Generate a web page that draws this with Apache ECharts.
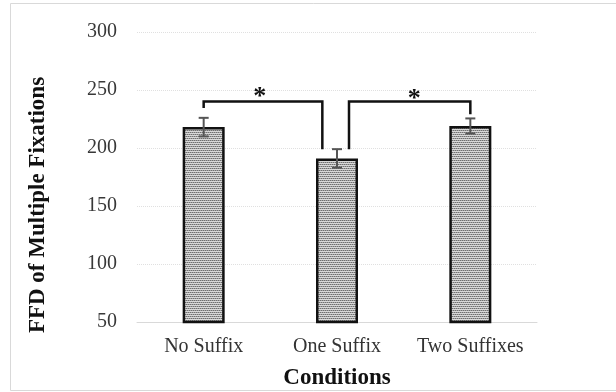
<!DOCTYPE html>
<html><head><meta charset="utf-8">
<script src="https://cdn.jsdelivr.net/npm/echarts@6/dist/echarts.min.js"></script>
<style>html,body{margin:0;padding:0;background:#fff}#c{width:616px;height:392px}</style>
</head><body><div id="c"></div>
<script>
const categories = ['No Suffix', 'One Suffix', 'Two Suffixes'];
const means = [218, 191, 219];
const errors = [8, 8, 6.5];
const yTicks = [50, 100, 150, 200, 250, 300];
// brackets: [xStart, xEnd, yStartEnd, yEndEnd, yTop]
const bracketX0 = [0, 1.09];
const bracketX1 = [0.89, 2];
const bracketLeftEnd = [234.5, 199];
const bracketRightEnd = [199, 229];
const bracketTop = [240, 240];
const starX = [0.42, 1.58];
const starY = [244, 242];
const yAxisTitle = 'FFD of Multiple Fixations';
const xAxisTitle = 'Conditions';

function makePattern() {
  const c = document.createElement('canvas');
  c.width = 4; c.height = 4;
  const g = c.getContext('2d');
  g.fillStyle = '#d8d8d8'; g.fillRect(0, 0, 4, 4);
  g.fillStyle = '#6e6e6e';
  g.fillRect(0, 0, 1, 1); g.fillRect(2, 0, 1, 1); g.fillRect(1, 2, 1, 1); g.fillRect(3, 2, 1, 1);
  g.fillStyle = '#a4a4a4';
  g.fillRect(1, 0, 1, 1); g.fillRect(3, 0, 1, 1); g.fillRect(0, 2, 1, 1); g.fillRect(2, 2, 1, 1);
  return c;
}

const chart = echarts.init(document.getElementById('c'));
const serif = '"Liberation Serif", "Times New Roman", serif';

const errData = categories.map((c, i) => [i, means[i] - errors[i], means[i] + errors[i]]);
const brData = bracketX0.map((x, i) => [x, bracketX1[i], bracketLeftEnd[i], bracketRightEnd[i], bracketTop[i]]);
const starData = starX.map((x, i) => [x, starY[i]]);

function xAt(api, x) {
  const base = Math.floor(x);
  const p = api.coord([base, 0]);
  const bw = api.size([1, 0])[0];
  return p[0] + (x - base) * bw;
}

chart.setOption({
  animation: false,
  graphic: [
    { type: 'rect', shape: { x: 10.5, y: 3.5, width: 620, height: 387 }, style: { fill: 'none', stroke: '#d9d9d9', lineWidth: 1 }, silent: true },
    { type: 'text', x: 38, y: 205, rotation: Math.PI / 2, style: { text: yAxisTitle, align: 'center', verticalAlign: 'middle', font: 'bold 23px ' + serif, fill: '#111' }, silent: true }
  ],
  grid: { left: 137, right: 79, top: 32, bottom: 70, outerBoundsMode: 'none' },
  xAxis: {
    type: 'category', data: categories,
    axisLine: { lineStyle: { color: '#d9d9d9', width: 1 } },
    axisTick: { show: false },
    axisLabel: { fontFamily: serif, fontSize: 20, color: '#333', margin: 15, interval: 0 },
    name: xAxisTitle, nameLocation: 'middle', nameGap: 45,
    nameTextStyle: { fontFamily: serif, fontSize: 23, fontWeight: 'bold', color: '#111' }
  },
  yAxis: {
    type: 'value', min: yTicks[0], max: yTicks[yTicks.length - 1], interval: 50,
    axisLine: { show: false }, axisTick: { show: false },
    splitLine: { lineStyle: { color: '#e0e0e0', type: 'dotted', width: 1 } },
    axisLabel: { fontFamily: serif, fontSize: 20, color: '#383838', margin: 20 }
  },
  series: [
    {
      type: 'bar', data: means, barWidth: 42,
      itemStyle: { color: { image: makePattern(), repeat: 'repeat' }, borderColor: '#111', borderWidth: 2.5 }
    },
    {
      type: 'custom', data: errData, z: 5,
      renderItem: function (params, api) {
        const lo = api.coord([api.value(0), api.value(1)]);
        const hi = api.coord([api.value(0), api.value(2)]);
        const cw = 5;
        const st = { stroke: '#555', lineWidth: 2 };
        return { type: 'group', children: [
          { type: 'line', shape: { x1: lo[0], y1: lo[1], x2: hi[0], y2: hi[1] }, style: st },
          { type: 'line', shape: { x1: lo[0] - cw, y1: lo[1], x2: lo[0] + cw, y2: lo[1] }, style: st },
          { type: 'line', shape: { x1: hi[0] - cw, y1: hi[1], x2: hi[0] + cw, y2: hi[1] }, style: st }
        ]};
      }
    },
    {
      type: 'custom', data: brData, z: 6,
      renderItem: function (params, api) {
        const x0 = xAt(api, api.value(0));
        const x1 = xAt(api, api.value(1));
        const yL = api.coord([0, api.value(2)])[1];
        const yR = api.coord([0, api.value(3)])[1];
        const yT = api.coord([0, api.value(4)])[1];
        return { type: 'polyline', shape: { points: [[x0, yL], [x0, yT], [x1, yT], [x1, yR]] },
          style: { stroke: '#111', lineWidth: 2.5, fill: 'none' } };
      }
    },
    {
      type: 'custom', data: starData, z: 7,
      renderItem: function (params, api) {
        const x = xAt(api, api.value(0));
        const y = api.coord([0, api.value(1)])[1];
        return { type: 'text', style: { text: '*', x: x, y: y, align: 'center', verticalAlign: 'middle',
          font: 'bold 26px ' + serif, fill: '#111' } };
      }
    }
  ]
});
</script>
</body></html>
